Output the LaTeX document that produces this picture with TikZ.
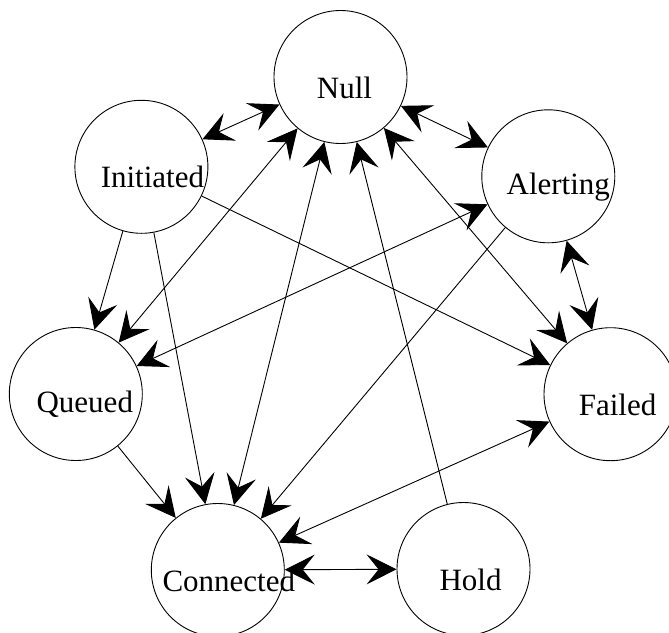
\documentclass[tikz,border=0pt]{standalone}
\usepackage{fontspec}
\setmainfont{Liberation Serif}
\usetikzlibrary{arrows.meta}

\begin{document}
\begin{tikzpicture}[x=0.5pt, y=-0.5pt, line width=0.45pt,
        state/.style={circle, draw, minimum size=66.5pt, inner sep=0pt},
        statename/.style={anchor=base, yshift=-5.2pt, inner sep=0pt,
            font=\fontsize{15.5pt}{18pt}\selectfont},
        >={Stealth[length=15pt, width=15pt, inset=6pt]}]
            \useasboundingbox (0,0) rectangle (669,632);

            \node [state, label={[statename, xshift=2pt]center:Null}] (N) at (340.5, 77) {};
            \node [state, label={[statename, xshift=5.5pt]center:Initiated}] (I) at (141.4, 166.8) {};
            \node [state, label={[statename, xshift=5pt]center:Alerting}] (A) at (548.3, 176.3) {};
            \node [state, label={[statename, xshift=4.5pt]center:Queued}] (Q) at (75.8, 394) {};
            \node [state, label={[statename, xshift=3.5pt]center:Failed}] (F) at (610.5, 394.2) {};
            \node [state, label={[statename, xshift=5.5pt]center:Connected}] (C) at (217.8, 570) {};
            \node [state, label={[statename, xshift=3.5pt]center:Hold}] (H) at (463.5, 569) {};

            \draw [<->] (I) -- (N);
            \draw [<->] (N) -- (A);
            \draw [<->] (A) -- (F);
            \draw [->] (I) -- (Q);
            \draw [->] (I) -- (C);
            \draw [->] (I) -- (F);
            \draw [<->] (N) -- (Q);
            \draw [<->] (N) -- (C);
            \draw [->] (H) -- (N);
            \draw [<->] (N) -- (F);
            \draw [<->] (A) -- (Q);
            \draw [->] (A) -- (C);
            \draw [->] (Q) -- (C);
            \draw [<->] (C) -- (F);
            \draw [<->] (C) -- (H);
        \end{tikzpicture}
\end{document}
